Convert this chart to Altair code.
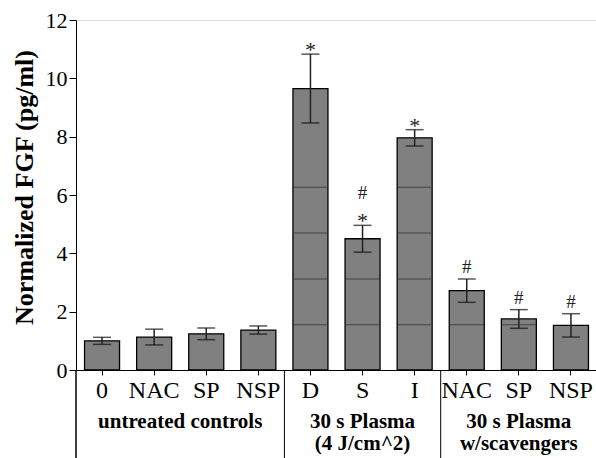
import altair as alt
import pandas as pd

# ---- data ----
keys = ["k0", "k1", "k2", "k3", "k4", "k5", "k6", "k7", "k8", "k9"]
labels = ["0", "NAC", "SP", "NSP", "D", "S", "I", "NAC", "SP", "NSP"]
means = [1.00, 1.13, 1.24, 1.37, 9.65, 4.50, 7.96, 2.72, 1.75, 1.53]
errs = [0.12, 0.27, 0.20, 0.14, 1.18, 0.46, 0.28, 0.40, 0.32, 0.40]

star_keys = ["k4", "k5", "k6"]
hash_keys = ["k5", "k7", "k8", "k9"]
hash_rows = [1, 0, 0, 0]

inner_levels = [1.55, 3.12, 4.70, 6.27]

separator_keys = ["k4", "k7"]

group_text = ["untreated controls", "30 s Plasma\n(4 J/cm^2)", "30 s Plasma\nw/scavengers"]
group_anchor = ["k1", "k5", "k8"]
group_band = [1.0, 0.5, 0.5]

FONT = "Liberation Serif"

df = pd.DataFrame({"key": keys, "label": labels, "mean": means, "err": errs})
df["lo"] = df["mean"] - df["err"]
df["hi"] = df["mean"] + df["err"]

stars = df[df["key"].isin(star_keys)].copy()
stars["sym"] = "*"
hashes = df.set_index("key").loc[hash_keys].reset_index()
hashes["sym"] = "#"
hashes["row"] = hash_rows

inner = pd.DataFrame(
    [{"key": k, "lvl": l} for k, m in zip(keys, means) for l in inner_levels if l < m]
)
seps = pd.DataFrame({"key": separator_keys})
groups = pd.DataFrame({"key": group_anchor, "text": group_text, "band": group_band})

label_map = "{" + ",".join(f"'{k}':'{l}'" for k, l in zip(keys, labels)) + "}"

xscale = alt.Scale(domain=keys, range=[0, 521], paddingInner=0, paddingOuter=0)
yscale = alt.Scale(domain=[0, 12])

x_axis = alt.Axis(
    title=None, labelExpr=f"{label_map}[datum.value]", labelAngle=0,
    labelFont=FONT, labelFontSize=24, labelColor="black", labelPadding=3,
    tickSize=5, tickColor="black", domainColor="black", domainWidth=1,
    labelOverlap=False,
)
y_axis = alt.Axis(
    title="Normalized FGF (pg/ml)", titleFont=FONT, titleFontSize=26,
    titleFontWeight="bold", titleColor="black",
    titleAngle=270, titleAlign="center", titleBaseline="alphabetic",
    titleX=-44, titleY=167,
    values=[0, 2, 4, 6, 8, 10, 12], labelFont=FONT, labelFontSize=22,
    labelColor="black", labelPadding=2, tickSize=7, tickColor="black",
    domainColor="black", domainWidth=1, grid=False,
)

X = alt.X("key:N", scale=xscale, axis=x_axis, sort=keys)

bars = alt.Chart(df).mark_bar(
    width=35, fill="#808080", stroke="black", strokeWidth=1.3
).encode(x=X, y=alt.Y("mean:Q", scale=yscale, axis=y_axis))

inner_lines = alt.Chart(inner).mark_tick(
    size=34, thickness=1, color="#2a2a2a", orient="horizontal"
).encode(x=alt.X("key:N", scale=xscale, sort=keys), y=alt.Y("lvl:Q", scale=yscale))

err_rule = alt.Chart(df).mark_rule(color="#222222", strokeWidth=1.5).encode(
    x=alt.X("key:N", scale=xscale, sort=keys),
    y=alt.Y("lo:Q", scale=yscale), y2="hi:Q",
)
cap_hi = alt.Chart(df).mark_tick(size=18, thickness=1.5, color="#111111", orient="horizontal").encode(
    x=alt.X("key:N", scale=xscale, sort=keys), y=alt.Y("hi:Q", scale=yscale)
)
cap_lo = alt.Chart(df).mark_tick(size=18, thickness=1.5, color="#111111", orient="horizontal").encode(
    x=alt.X("key:N", scale=xscale, sort=keys), y=alt.Y("lo:Q", scale=yscale)
)

star_txt = alt.Chart(stars).mark_text(
    font=FONT, fontSize=22, color="#222222", baseline="alphabetic", dy=3
).encode(x=alt.X("key:N", scale=xscale, sort=keys), y=alt.Y("hi:Q", scale=yscale), text="sym:N")

hash0 = alt.Chart(hashes).transform_filter("datum.row == 0").mark_text(
    font=FONT, fontSize=19, color="#222222", baseline="alphabetic", dy=-6
).encode(x=alt.X("key:N", scale=xscale, sort=keys), y=alt.Y("hi:Q", scale=yscale), text="sym:N")
hash1 = alt.Chart(hashes).transform_filter("datum.row == 1").mark_text(
    font=FONT, fontSize=19, color="#222222", baseline="alphabetic", dy=-26
).encode(x=alt.X("key:N", scale=xscale, sort=keys), y=alt.Y("hi:Q", scale=yscale), text="sym:N")

sep_rules = alt.Chart(seps).mark_rule(color="black", strokeWidth=1).encode(
    x=alt.X("key:N", scale=xscale, sort=keys, bandPosition=0),
    y=alt.value(350), y2=alt.value(440),
)
left_rule = alt.Chart(seps).mark_rule(color="black", strokeWidth=1).encode(
    x=alt.value(0), y=alt.value(350), y2=alt.value(440),
)

grp_layers = []
for b in sorted(set(group_band)):
    grp_layers.append(
        alt.Chart(groups).transform_filter(f"datum.band == {b}").mark_text(
            font=FONT, fontSize=21, fontWeight="bold", color="black",
            baseline="alphabetic", lineBreak="\n", lineHeight=22,
        ).encode(
            x=alt.X("key:N", scale=xscale, sort=keys, bandPosition=b),
            y=alt.value(408), text="text:N",
        )
    )

chart = alt.layer(
    bars, inner_lines, err_rule, cap_hi, cap_lo, star_txt, hash0, hash1,
    sep_rules, left_rule, *grp_layers
).properties(
    width=520, height=350,
    autosize=alt.AutoSizeParams(type="none"),
    padding={"left": 76, "top": 20, "right": 0, "bottom": 88},
).configure_view(stroke=None).configure(background="white")

chart.save("out.html", embed_options={"renderer": "svg", "actions": False})
